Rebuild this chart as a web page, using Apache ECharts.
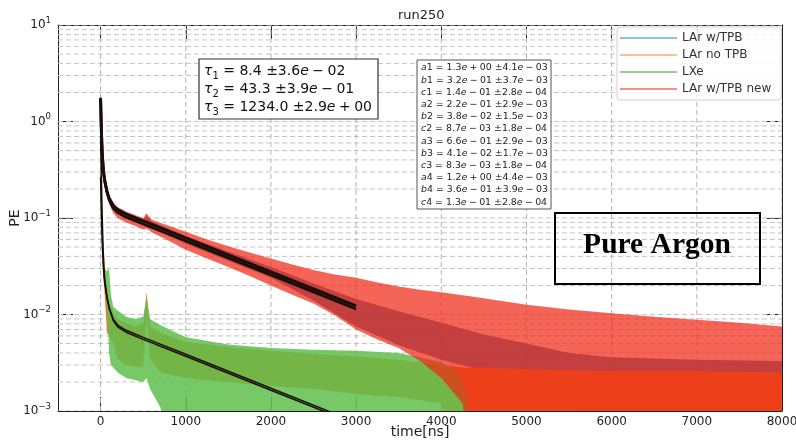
<!DOCTYPE html>
<html>
<head>
<meta charset="utf-8">
<script src="https://cdn.jsdelivr.net/npm/echarts/dist/echarts.min.js"></script>
<style>
  html, body { margin: 0; padding: 0; background: #fff; }
  #chart { width: 796px; height: 441px; }
</style>
</head>
<body>
<div id="chart"></div>
<script>
// ---- axis ticks ----
const xTicks = [0, 1000, 2000, 3000, 4000, 5000, 6000, 7000, 8000];
const yTicks = [0.001, 0.01, 0.1, 1, 10];
const yGridLines = [
  0.001, 0.002, 0.003, 0.004, 0.005, 0.006, 0.007, 0.008, 0.009,
  0.01, 0.02, 0.03, 0.04, 0.05, 0.06, 0.07, 0.08, 0.09,
  0.1, 0.2, 0.3, 0.4, 0.5, 0.6, 0.7, 0.8, 0.9,
  1, 2, 3, 4, 5, 6, 7, 8, 9, 10
];

// ---- measured waveforms: upper / lower envelope of each noisy trace ----
// LAr w/TPB
const blueTime = [-5, 0, 10, 20, 30, 50, 100, 150, 200, 300, 500, 540, 600, 1000, 1500, 2000, 2500, 3000, 3500, 4000, 4500, 5000, 5500, 6000, 7000, 8000];
const blueHigh = [0.0001, 2.0, 0.8, 0.47, 0.35, 0.25, 0.165, 0.138, 0.126, 0.113, 0.096, 0.105, 0.092, 0.065, 0.045, 0.031, 0.021, 0.0145, 0.0108, 0.0082, 0.0062, 0.005, 0.004, 0.0036, 0.0034, 0.0033];
const blueLow  = [0.0001, 1.5, 0.7, 0.42, 0.31, 0.22, 0.15, 0.125, 0.114, 0.102, 0.085, 0.09, 0.08, 0.054, 0.036, 0.024, 0.014, 0.0075, 0.0048, 0.0034, 0.0026, 0.0022, 0.0016, 0.0001, 0.0001, 0.0001];

// LAr no TPB
const orangeTime = [-5, 0, 10, 20, 30, 50, 75, 100, 150, 200, 300, 400, 500, 540, 580, 700, 1000, 1500, 2000, 2500, 3000, 3500, 4000, 4300, 4500, 5000, 6000, 7000, 8000];
const orangeHigh = [0.0001, 0.3, 0.12, 0.06, 0.04, 0.025, 0.018, 0.014, 0.0105, 0.009, 0.0082, 0.0075, 0.008, 0.017, 0.0075, 0.0065, 0.0052, 0.0046, 0.0042, 0.0039, 0.0037, 0.0034, 0.003, 0.0028, 0.0028, 0.0027, 0.0026, 0.0026, 0.0025];
const orangeLow  = [0.0001, 0.2, 0.08, 0.04, 0.026, 0.015, 0.0065, 0.006, 0.005, 0.0035, 0.003, 0.0029, 0.0028, 0.01, 0.0035, 0.0025, 0.0022, 0.002, 0.0018, 0.0017, 0.0015, 0.0014, 0.0012, 0.0001, 0.0001, 0.0001, 0.0001, 0.0001, 0.0001];

// LXe
const greenTime = [-5, 0, 10, 20, 30, 50, 75, 100, 120, 150, 200, 300, 400, 500, 540, 580, 700, 1000, 1500, 2000, 2500, 3000, 3500, 3750, 4000, 4200, 4300, 4400];
const greenHigh = [0.0001, 0.75, 0.28, 0.11, 0.06, 0.03, 0.028, 0.03, 0.016, 0.012, 0.011, 0.0095, 0.009, 0.0095, 0.015, 0.009, 0.0078, 0.0058, 0.0049, 0.0045, 0.0043, 0.0042, 0.004, 0.0036, 0.0032, 0.0025, 0.0015, 0.0001];
const greenLow  = [0.0001, 0.5, 0.2, 0.08, 0.04, 0.02, 0.012, 0.004, 0.003, 0.0028, 0.0025, 0.0022, 0.0021, 0.002, 0.0022, 0.0017, 0.0011, 0.0001, 0.0001, 0.0001, 0.0001, 0.0001, 0.0001, 0.0001, 0.0001, 0.0001, 0.0001, 0.0001];

// LAr w/TPB new
const redTime = [-5, 0, 10, 20, 30, 50, 75, 100, 150, 200, 300, 400, 500, 540, 600, 800, 1000, 1250, 1500, 1750, 2000, 2250, 2500, 2750, 3000, 3250, 3500, 3750, 4000, 4250, 4400, 4500, 5000, 5500, 6000, 6500, 7000, 7500, 8000];
const redHigh = [0.0001, 2.3, 0.85, 0.5, 0.37, 0.26, 0.2, 0.17, 0.145, 0.13, 0.117, 0.108, 0.1, 0.112, 0.096, 0.083, 0.072, 0.06, 0.051, 0.044, 0.038, 0.033, 0.029, 0.026, 0.024, 0.0215, 0.0195, 0.018, 0.017, 0.0158, 0.0152, 0.0147, 0.0126, 0.0113, 0.0103, 0.0095, 0.0088, 0.0082, 0.0075];
const redLow  = [0.0001, 1.5, 0.65, 0.4, 0.3, 0.21, 0.165, 0.14, 0.112, 0.1, 0.09, 0.083, 0.076, 0.078, 0.071, 0.058, 0.047, 0.038, 0.031, 0.025, 0.02, 0.016, 0.013, 0.0098, 0.007, 0.0055, 0.0045, 0.0033, 0.0022, 0.0012, 0.0001, 0.0001, 0.0001, 0.0001, 0.0001, 0.0001, 0.0001, 0.0001, 0.0001];

// ---- triple-exponential fits (one per trace) ----
const fitTime = [0, 2, 5, 10, 15, 20, 30, 40, 50, 75, 100, 150, 200, 300, 500, 1000, 2000, 3000];
const fit1 = [1.76, 1.470, 1.141, 0.788, 0.583, 0.460, 0.333, 0.274, 0.239, 0.189, 0.161, 0.134, 0.122, 0.110, 0.0934, 0.0623, 0.0277, 0.0123];
const fit2 = [0.2667, 0.2184, 0.1638, 0.1057, 0.0724, 0.0529, 0.0337, 0.0254, 0.0209, 0.0149, 0.0118, 0.00889, 0.00777, 0.00686, 0.0058, 0.00387, 0.00172, 0.000765];
const fit3 = [0.7093, 0.5675, 0.4087, 0.2415, 0.1479, 0.0951, 0.0472, 0.0300, 0.0226, 0.0152, 0.0117, 0.00863, 0.00746, 0.00655, 0.00553, 0.00369, 0.00164, 0.00073];
const fit4 = [1.69, 1.419, 1.112, 0.780, 0.584, 0.466, 0.341, 0.279, 0.241, 0.186, 0.156, 0.126, 0.114, 0.102, 0.0867, 0.0578, 0.0257, 0.0114];

// ---- fit results ----
const tauNames = ['1', '2', '3'];
const tauValues = ['8.4', '43.3', '1234.0'];
const tauErrMant = ['3.6', '3.9', '2.9'];
const tauErrExp = ['− 02', '− 01', '+ 00'];

const parNames = ['a', 'b', 'c', 'a', 'b', 'c', 'a', 'b', 'c', 'a', 'b', 'c'];
const parIdx = ['1', '1', '1', '2', '2', '2', '3', '3', '3', '4', '4', '4'];
const parMant = ['1.3', '3.2', '1.4', '2.2', '3.8', '8.7', '6.6', '4.1', '8.3', '1.2', '3.6', '1.3'];
const parExp = ['+ 00', '− 01', '− 01', '− 01', '− 02', '− 03', '− 01', '− 02', '− 03', '+ 00', '− 01', '− 01'];
const errMant = ['4.1', '3.7', '2.8', '2.9', '1.5', '1.8', '2.9', '1.7', '1.8', '4.4', '3.9', '2.8'];
const errExp = ['− 03', '− 03', '− 04', '− 03', '− 03', '− 04', '− 03', '− 03', '− 04', '− 03', '− 03', '− 04'];

const seriesNames = ['LAr w/TPB', 'LAr no TPB', 'LXe', 'LAr w/TPB new'];
const legendColors = ['#8cc1de', '#f7c48e', '#8fd18f', '#f0928a'];

const FONT = 'DejaVu Sans';
const MID = '\u2005';
// medium spacing around binary operators, as in math typesetting
const tight = s => s.replace(/ ([+−]) /g, MID + '$1' + MID);

function band(name, times, hi, lo, fill, opacity) {
  return {
    name: name,
    type: 'custom',
    coordinateSystem: 'cartesian2d',
    clip: true,
    silent: true,
    z: 2,
    data: [[times[1], hi[1]]],
    renderItem: function (params, api) {
      const pts = [];
      for (let i = 0; i < times.length; i++) pts.push(api.coord([times[i], hi[i]]));
      for (let i = times.length - 1; i >= 0; i--) pts.push(api.coord([times[i], lo[i]]));
      return { type: 'polygon', shape: { points: pts }, style: { fill: fill, opacity: opacity } };
    }
  };
}

function fitLine(values, width) {
  return {
    type: 'line',
    data: fitTime.map((t, i) => [t, values[i]]),
    showSymbol: false,
    silent: true,
    clip: true,
    z: 3,
    lineStyle: { color: '#1a0e08', width: width }
  };
}

const gridSeries = {
  type: 'custom',
  coordinateSystem: 'cartesian2d',
  clip: true,
  silent: true,
  z: 1,
  data: [[0, 1]],
  renderItem: function (params, api) {
    const children = [];
    const dash = { stroke: '#c4c4c4', lineWidth: 1, lineDash: [5, 3] };
    yGridLines.forEach(v => {
      const a = api.coord([-500, v]);
      const b = api.coord([8000, v]);
      children.push({ type: 'line', shape: { x1: a[0], y1: a[1], x2: b[0], y2: b[1] }, style: dash });
    });
    xTicks.forEach(v => {
      const a = api.coord([v, 0.001]);
      const b = api.coord([v, 10]);
      children.push({ type: 'line', shape: { x1: a[0], y1: a[1], x2: b[0], y2: b[1] }, style: { stroke: '#b4b4b4', lineWidth: 1, lineDash: [5, 3] } });
    });
    return { type: 'group', children: children };
  }
};

function supLabel(v) {
  const e = Math.round(Math.log10(v));
  return '{b|10}{s|' + (e < 0 ? '−' + (-e) : String(e)) + '}';
}

const graphics = [];
// tau box
graphics.push({
  type: 'rect', z: 100, shape: { x: 199, y: 59, width: 179, height: 60 },
  style: { fill: '#fff', stroke: '#333', lineWidth: 1.2 }
});
tauNames.forEach((n, i) => {
  graphics.push({
    type: 'text', z: 101, x: 204, y: 71 + i * 18,
    style: {
      text: '{i|τ}{sub|' + n + '}{n| = ' + tauValues[i] + ' ±' + tauErrMant[i] + '}{i|e}{n|' + tight(' ' + tauErrExp[i]) + '}',
      verticalAlign: 'middle',
      rich: {
        n: { fontFamily: FONT, fontSize: 14, lineHeight: 20, fill: '#111' },
        i: { fontFamily: FONT, fontSize: 14, lineHeight: 20, fontStyle: 'italic', fill: '#111' },
        sub: { fontFamily: FONT, fontSize: 10, lineHeight: 13, verticalAlign: 'bottom', fill: '#111' }
      }
    }
  });
});
// parameter box
graphics.push({
  type: 'rect', z: 100, shape: { x: 417, y: 60, width: 134, height: 149 },
  style: { fill: 'rgba(255,255,255,0.92)', stroke: '#555', lineWidth: 1 }
});
parNames.forEach((n, i) => {
  graphics.push({
    type: 'text', z: 101, x: 421, y: 68 + i * 12.2,
    style: {
      text: '{i|' + n + '}{n|' + parIdx[i] + ' = ' + parMant[i] + '}{i|e}{n|' + tight(' ' + parExp[i]) + ' ±' + errMant[i] + '}{i|e}{n|' + tight(' ' + errExp[i]) + '}',
      verticalAlign: 'middle',
      rich: {
        n: { fontFamily: FONT, fontSize: 9.4, fill: '#222' },
        i: { fontFamily: FONT, fontSize: 9.4, fontStyle: 'italic', fill: '#222' }
      }
    }
  });
});
// sample label box
graphics.push({
  type: 'rect', z: 100, shape: { x: 555, y: 213, width: 205, height: 71 },
  style: { fill: 'none', stroke: '#000', lineWidth: 2 }
});
graphics.push({
  type: 'text', z: 101, x: 657, y: 245,
  style: {
    text: 'Pure Argon', align: 'center', verticalAlign: 'middle',
    font: 'bold 29.5px "Liberation Serif", "Times New Roman", serif', fill: '#000'
  }
});

const axisLineStyle = { show: true, onZero: false, lineStyle: { color: '#222', width: 1 } };

const chart = echarts.init(document.getElementById('chart'), null, { renderer: 'canvas' });
chart.setOption({
  animation: false,
  backgroundColor: '#fff',
  title: {
    text: 'run250', left: 393, top: 4,
    textStyle: { fontFamily: FONT, fontSize: 13, fontWeight: 'normal', color: '#222' }
  },
  grid: { left: 58, right: 14, top: 25, bottom: 30, containLabel: false, outerBoundsMode: 'none' },
  legend: {
    orient: 'vertical', left: 617, top: 27,
    itemWidth: 57, itemHeight: 2, itemGap: 5, icon: 'rect',
    data: seriesNames.map((n, i) => ({ name: n, itemStyle: { color: legendColors[i] } })),
    textStyle: { fontFamily: FONT, fontSize: 12, color: '#333', lineHeight: 12 },
    backgroundColor: 'rgba(255,255,255,0.85)', borderColor: '#d0d0d0', borderWidth: 1, borderRadius: 3,
    padding: [5, 10, 5, 3]
  },
  xAxis: [{
    type: 'value', min: -500, max: 8000, position: 'bottom',
    name: 'time[ns]', nameLocation: 'middle', nameGap: 21, nameMoveOverlap: false,
    nameTextStyle: { fontFamily: FONT, fontSize: 14, color: '#222', verticalAlign: 'middle', lineHeight: 14 },
    axisLine: axisLineStyle,
    axisTick: { show: true, inside: true, length: 14, customValues: xTicks, lineStyle: { color: '#222' } },
    axisLabel: { customValues: xTicks, formatter: v => String(v), fontFamily: FONT, fontSize: 12, color: '#222', margin: 5 },
    splitLine: { show: false }
  }, {
    type: 'value', min: -500, max: 8000, position: 'top',
    axisLine: axisLineStyle,
    axisTick: { show: true, inside: true, length: 14, customValues: xTicks, lineStyle: { color: '#222' } },
    axisLabel: { show: false },
    splitLine: { show: false }
  }],
  yAxis: [{
    type: 'log', logBase: 10, min: 0.001, max: 10, position: 'left',
    name: 'PE', nameLocation: 'middle', nameGap: 43, nameMoveOverlap: false,
    nameTextStyle: { fontFamily: FONT, fontSize: 14, color: '#222', verticalAlign: 'middle', lineHeight: 14 },
    axisLine: axisLineStyle,
    axisTick: { show: true, inside: true, length: 15, customValues: yTicks, lineStyle: { color: '#222' } },
    axisLabel: {
      customValues: yTicks, margin: 7, formatter: supLabel,
      rich: {
        b: { fontFamily: FONT, fontSize: 12, color: '#222', lineHeight: 18 },
        s: { fontFamily: FONT, fontSize: 8.5, color: '#222', lineHeight: 10, verticalAlign: 'top' }
      }
    },
    splitLine: { show: false }
  }, {
    type: 'log', logBase: 10, min: 0.001, max: 10, position: 'right',
    axisLine: axisLineStyle,
    axisTick: { show: true, inside: true, length: 15, customValues: yTicks, lineStyle: { color: '#222' } },
    axisLabel: { show: false },
    splitLine: { show: false }
  }],
  series: [
    gridSeries,
    band(seriesNames[0], blueTime, blueHigh, blueLow, '#34609a', 0.85),
    band(seriesNames[1], orangeTime, orangeHigh, orangeLow, '#e8781c', 0.95),
    band(seriesNames[2], greenTime, greenHigh, greenLow, '#5fbe4c', 0.85),
    band(seriesNames[3], redTime, redHigh, redLow, '#f02a16', 0.72),
    fitLine(fit1, 2.9), fitLine(fit2, 1.5), fitLine(fit3, 1.5), fitLine(fit4, 2.9)
  ],
  graphic: graphics
});
</script>
</body>
</html>
